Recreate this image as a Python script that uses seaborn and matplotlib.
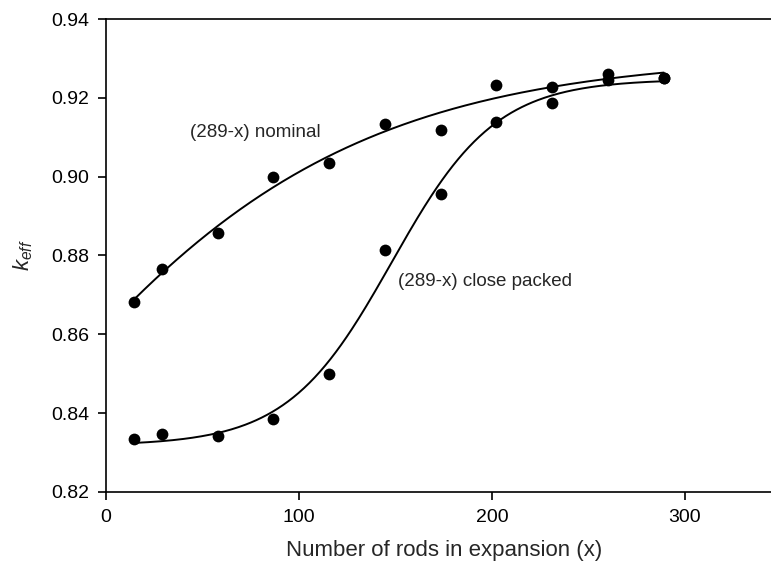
import numpy as np
import pandas as pd
import matplotlib
matplotlib.use("Agg")
import matplotlib.pyplot as plt
import seaborn as sns

# Number of rods moved into the expanded region
rods = [14.45, 28.9, 57.8, 86.7, 115.6, 144.5, 173.4, 202.3, 231.2, 260.1, 289.0]

# k_eff for the two arrangements of the remaining (289-x) rods
keff_nominal = [0.8683, 0.8767, 0.8856, 0.8999, 0.9035, 0.9133,
                0.9118, 0.9233, 0.9228, 0.9260, 0.9250]
keff_close = [0.8335, 0.8346, 0.8342, 0.8385, 0.8500, 0.8813,
              0.8955, 0.9139, 0.9188, 0.9245, 0.9250]

x_ticks = [0, 100, 200, 300]
y_ticks = [0.82, 0.84, 0.86, 0.88, 0.90, 0.92, 0.94]


def fit_sigmoid(x, y):
    """Least-squares 4-parameter sigmoid y0 + a / (1 + exp(-(x - x0) / b))."""
    x = np.asarray(x, float)
    y = np.asarray(y, float)
    best = None
    for x0 in np.arange(-300.0, 300.0, 1.0):
        for b in np.arange(5.0, 250.0, 1.0):
            s = 1.0 / (1.0 + np.exp(-(x - x0) / b))
            A = np.column_stack([np.ones_like(s), s])
            coef, *_ = np.linalg.lstsq(A, y, rcond=None)
            sse = np.sum((A @ coef - y) ** 2)
            if best is None or sse < best[0]:
                best = (sse, coef[0], coef[1], x0, b)
    _, y0, a, x0, b = best
    return lambda t: y0 + a / (1.0 + np.exp(-(t - x0) / b))


sns.set_style("ticks")
plt.rcParams["font.family"] = ["Liberation Sans", "DejaVu Sans"]
plt.rcParams["mathtext.fontset"] = "custom"
plt.rcParams["mathtext.it"] = "Liberation Sans:italic"
plt.rcParams["mathtext.rm"] = "Liberation Sans"

fig = plt.figure(figsize=(7.71, 5.71), dpi=100)
ax = fig.add_axes([0.1375, 0.1384, 1.0136 - 0.1375, 0.9667 - 0.1384])

xs = np.linspace(rods[0], rods[-1], 300)
curves = []
for name, vals in [("nominal", keff_nominal), ("close packed", keff_close)]:
    f = fit_sigmoid(rods, vals)
    curves.append(pd.DataFrame({"x": xs, "y": f(xs), "arr": name}))
    pts = pd.DataFrame({"x": rods, "y": vals})
    sns.scatterplot(data=pts, x="x", y="y", ax=ax, color="black", s=72,
                    edgecolor="black", linewidth=0, zorder=3)

curve_df = pd.concat(curves, ignore_index=True)
sns.lineplot(data=curve_df, x="x", y="y", units="arr", estimator=None,
             ax=ax, color="black", linewidth=1.4, zorder=2)

ax.set_xlim(0, 350)
ax.set_ylim(0.82, 0.94)
ax.set_xticks(x_ticks)
ax.set_yticks(y_ticks)
ax.set_xticklabels([str(t) for t in x_ticks])
ax.set_yticklabels([f"{t:.2f}" for t in y_ticks])
ax.tick_params(axis="both", direction="out", length=6, width=1.2,
               labelsize=14, colors="black", pad=6)
for side in ["left", "bottom", "top"]:
    ax.spines[side].set_visible(True)
    ax.spines[side].set_linewidth(1.2)
    ax.spines[side].set_color("black")
ax.spines["right"].set_visible(False)

ax.set_xlabel("Number of rods in expansion (x)", fontsize=16, labelpad=10)
ax.set_ylabel(r"$k_{eff}$", fontsize=16, labelpad=12)

ax.text(43.5, 0.9113, "(289-x) nominal", fontsize=13.5, va="center", ha="left")
ax.text(151.3, 0.8735, "(289-x) close packed", fontsize=13.5, va="center", ha="left")

fig.savefig("out.png", dpi=100)
